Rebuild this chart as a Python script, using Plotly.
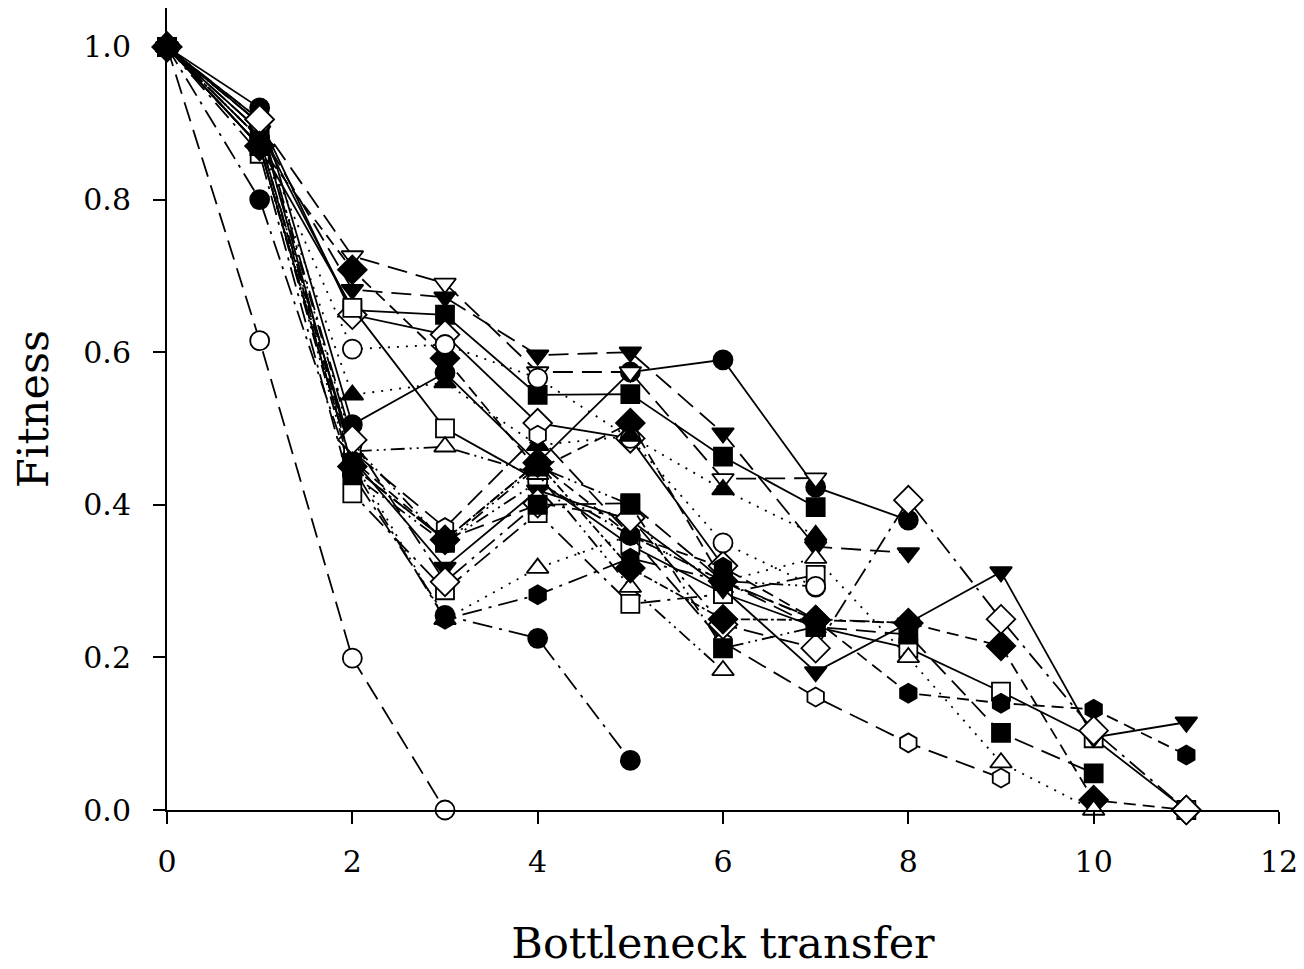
import plotly.graph_objects as go

# Bottleneck transfers (x) and fitness trajectories of individual lineages
transfers = list(range(0, 12))

s01_open_circle = [1.0, 0.615, 0.199, 0.0]
s02_filled_circle = [1.0, 0.80, 0.44, 0.255, 0.225, 0.065]
s03_filled_circle = [1.0, 0.92, 0.505, 0.573, 0.455, 0.574, 0.59, 0.423, 0.38]
s04_open_tridown = [1.0, 0.90, 0.726, 0.69, 0.574, 0.574, 0.434, 0.435]
s05_filled_tridown = [1.0, 0.89, 0.682, 0.672, 0.596, 0.60, 0.494, 0.345, 0.337]
s06_filled_square = [1.0, 0.89, 0.655, 0.649, 0.544, 0.545, 0.463, 0.397]
s07_open_diamond = [1.0, 0.905, 0.649, 0.623, 0.507, 0.487, 0.32]
s08_filled_diamond = [1.0, 0.87, 0.708, 0.592, 0.446, 0.507, 0.30, 0.249, 0.245, 0.215, 0.013, 0.0]
s09_open_square = [1.0, 0.87, 0.658, 0.50, 0.432, 0.347, 0.284, 0.24, 0.212, 0.155, 0.094, 0.0]
s10_open_square = [1.0, 0.86, 0.415, 0.288, 0.389, 0.27, 0.283, 0.308]
s11_open_circle = [1.0, 0.88, 0.604, 0.61, 0.566, 0.487, 0.35, 0.292]
s12_open_circle = [1.0, 0.90, 0.48, 0.35, 0.43, 0.36, 0.30, 0.293]
s13_filled_triup = [1.0, 0.88, 0.544, 0.56, 0.478, 0.49, 0.42, 0.36]
s14_open_triup = [1.0, 0.88, 0.47, 0.476, 0.44, 0.292, 0.183]
s15_open_triup = [1.0, 0.87, 0.46, 0.25, 0.317, 0.36, 0.30, 0.33, 0.20, 0.062, 0.0]
s16_open_hexagon = [1.0, 0.88, 0.47, 0.37, 0.491, 0.36, 0.22, 0.148, 0.088, 0.042]
s17_filled_hexagon = [1.0, 0.88, 0.459, 0.354, 0.455, 0.36, 0.318, 0.249, 0.153, 0.14, 0.132, 0.072]
s18_filled_hexagon = [1.0, 0.87, 0.45, 0.25, 0.282, 0.33, 0.30, 0.25, 0.245]
s19_filled_tridown = [1.0, 0.90, 0.46, 0.318, 0.419, 0.38, 0.29, 0.181, 0.245, 0.312, 0.095, 0.115]
s20_open_diamond = [1.0, 0.905, 0.485, 0.299, 0.402, 0.383, 0.243, 0.212, 0.406, 0.25, 0.104, 0.0]
s21_filled_square = [1.0, 0.87, 0.45, 0.354, 0.40, 0.402, 0.30, 0.24, 0.23, 0.101, 0.048]
s22_filled_diamond = [1.0, 0.87, 0.45, 0.354, 0.455, 0.317, 0.25, 0.249]
s23_filled_square = [1.0, 0.87, 0.44, 0.35, 0.45, 0.40, 0.212, 0.24]

x_ticks = [0, 2, 4, 6, 8, 10, 12]
y_ticks = [0.0, 0.2, 0.4, 0.6, 0.8, 1.0]
y_tick_labels = ["0.0", "0.2", "0.4", "0.6", "0.8", "1.0"]

DDOT = "14px,5px,2px,5px,2px,5px"
LDASH = "20px,9px"
DASH = "12px,7px"
LDD = "20px,7px,3px,7px"
series = [
    (s01_open_circle, "circle", False, LDASH),
    (s02_filled_circle, "circle", True, LDD),
    (s03_filled_circle, "circle", True, "solid"),
    (s04_open_tridown, "triangle-down", False, LDASH),
    (s05_filled_tridown, "triangle-down", True, LDASH),
    (s06_filled_square, "square", True, "solid"),
    (s07_open_diamond, "diamond", False, "solid"),
    (s08_filled_diamond, "diamond", True, DASH),
    (s09_open_square, "square", False, "solid"),
    (s10_open_square, "square", False, LDD),
    (s11_open_circle, "circle", False, "2px,7px"),
    (s12_open_circle, "circle", False, DDOT),
    (s13_filled_triup, "triangle-up", True, "2px,7px"),
    (s14_open_triup, "triangle-up", False, DDOT),
    (s15_open_triup, "triangle-up", False, "2px,7px"),
    (s16_open_hexagon, "hexagon", False, LDASH),
    (s17_filled_hexagon, "hexagon", True, DASH),
    (s18_filled_hexagon, "hexagon", True, LDD),
    (s19_filled_tridown, "triangle-down", True, "solid"),
    (s20_open_diamond, "diamond", False, LDD),
    (s21_filled_square, "square", True, LDASH),
    (s22_filled_diamond, "diamond", True, "dashdot"),
    (s23_filled_square, "square", True, DDOT),
]

sizes = {"circle": 19, "square": 18, "triangle-up": 19, "triangle-down": 19,
         "diamond": 22, "hexagon": 19}

fig = go.Figure()
for vals, sym, filled, dash in series:
    fig.add_trace(go.Scatter(
        x=transfers[:len(vals)], y=vals,
        mode="lines+markers",
        line=dict(color="black", width=1.8, dash=dash),
        marker=dict(symbol=sym, size=sizes[sym],
                    color="black" if filled else "white",
                    line=dict(color="black", width=1.8)),
        cliponaxis=False,
        showlegend=False,
    ))

font_family = "DejaVu Serif, Liberation Serif, serif"
fig.update_layout(
    width=1304, height=969,
    margin=dict(l=159, r=33, t=0, b=167),
    paper_bgcolor="white", plot_bgcolor="white",
    font=dict(family=font_family, color="black"),
    showlegend=False,
)
fig.update_xaxes(
    range=[0, 12], tickvals=x_ticks, ticktext=[str(v) for v in x_ticks],
    showgrid=False, zeroline=False, showline=True, linecolor="black", linewidth=2,
    ticks="outside", ticklen=12, tickwidth=2, tickcolor="black",
    tickfont=dict(size=30, family=font_family), ticklabelstandoff=12,
    title=dict(text="Bottleneck transfer", font=dict(size=43, family=font_family), standoff=50),
)
fig.update_yaxes(
    range=[0, 1.051], tickvals=y_ticks, ticktext=y_tick_labels,
    showgrid=False, zeroline=False, showline=True, linecolor="black", linewidth=2,
    ticks="outside", ticklen=12, tickwidth=2, tickcolor="black",
    tickfont=dict(size=30, family=font_family), ticklabelstandoff=16,
    title=dict(text="Fitness", font=dict(size=43, family=font_family), standoff=26),
)

fig.write_html("out.html")
